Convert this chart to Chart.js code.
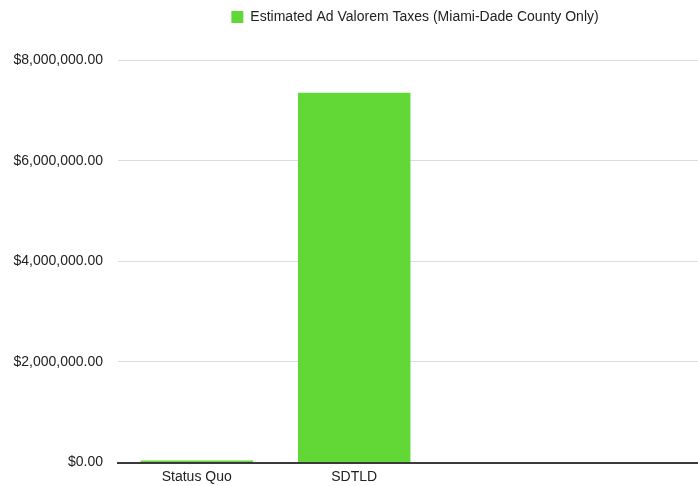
<!DOCTYPE html>
<html>
<head>
<meta charset="utf-8">
<script src="https://cdn.jsdelivr.net/npm/chart.js@4"></script>
<style>
  html, body { margin: 0; padding: 0; background: #ffffff; overflow: hidden; }
  #wrap { width: 698px; height: 486px; position: relative; }
</style>
</head>
<body>
<div id="wrap"><canvas id="chart_taxes"></canvas></div>
<script>
// Chart values
const categories = ['Status Quo', 'SDTLD'];
const taxValues = [40000, 7350000];
const yTicks = [0, 2000000, 4000000, 6000000, 8000000];
const seriesLabel = 'Estimated Ad Valorem Taxes (Miami-Dade County Only)';

const fontFamily = '"Liberation Sans", Arial, Helvetica, sans-serif';

function formatMoney(v) {
    return '$' + Number(v).toLocaleString('en-US', { minimumFractionDigits: 2, maximumFractionDigits: 2 });
}

// Extra room under the legend, and a small nudge to the right
const legendSpacing = {
    id: 'legendSpacing',
    beforeInit(chart) {
        const origFit = chart.legend.fit;
        chart.legend.fit = function () {
            origFit.bind(chart.legend)();
            this.height += 26;
        };
    },
    afterLayout(chart) {
        chart.legend.left += 7;
        chart.legend.right += 7;
    }
};

const ctx = document.getElementById('chart_taxes').getContext('2d');
window.chart_taxes = new Chart(ctx, {
    type: 'bar',
    data: {
        datasets: [{
            label: seriesLabel,
            data: categories.map((c, i) => ({ x: i, y: taxValues[i] })),
            backgroundColor: '#61d836',
            borderWidth: 0,
            barPercentage: 0.714,
            categoryPercentage: 1.0
        }]
    },
    options: {
        responsive: true,
        maintainAspectRatio: false,
        animation: false,
        layout: {
            padding: { top: 0, right: 0, bottom: -7, left: 0 }
        },
        plugins: {
            legend: {
                display: true,
                position: 'top',
                fullSize: false,
                labels: {
                    boxWidth: 12,
                    boxHeight: 12,
                    color: '#222222',
                    padding: 10,
                    font: { size: 14, family: fontFamily }
                }
            },
            tooltip: { enabled: false }
        },
        scales: {
            x: {
                type: 'linear',
                min: -0.5,
                max: 3.183,
                offset: false,
                afterBuildTicks: scale => {
                    scale.ticks = categories.map((c, i) => ({ value: i }));
                },
                grid: { display: false, drawTicks: false },
                border: { display: true, color: '#3a3a3a', width: 2 },
                ticks: {
                    autoSkip: false,
                    maxRotation: 0,
                    minRotation: 0,
                    padding: 6,
                    color: '#222222',
                    font: { size: 14, family: fontFamily },
                    callback: v => categories[v] !== undefined ? categories[v] : ''
                }
            },
            y: {
                min: 0,
                max: 8000000,
                afterBuildTicks: scale => {
                    scale.ticks = yTicks.map(v => ({ value: v }));
                },
                afterFit: scale => { scale.width = 118; },
                grid: { color: '#dcdcdc', lineWidth: 1, drawTicks: false },
                border: { display: false },
                ticks: {
                    padding: 15,
                    color: '#222222',
                    font: { size: 14, family: fontFamily },
                    callback: v => formatMoney(v)
                }
            }
        }
    },
    plugins: [legendSpacing]
});
</script>
</body>
</html>
